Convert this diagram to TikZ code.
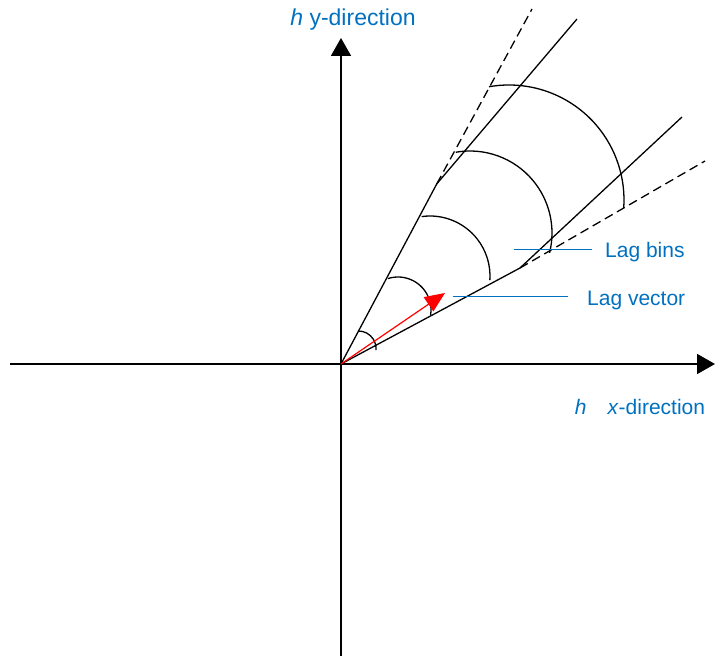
\documentclass[tikz,border=0pt]{standalone}
\usepackage{fontspec}
\setmainfont{Liberation Sans}
\usetikzlibrary{arrows.meta}
\definecolor{labelblue}{RGB}{0,112,192}
\begin{document}
\begin{tikzpicture}[x=10pt,y=10pt,
    axis/.style={line width=1.8pt,-{Triangle[length=18pt,width=20pt]}},
    binline/.style={line width=1.3pt},
    dashline/.style={line width=1.3pt,dash pattern=on 9pt off 5pt},
    leader/.style={labelblue,line width=1pt},
    axlabel/.style={labelblue,inner sep=0pt},
    laglabel/.style={labelblue,inner sep=0pt,anchor=west,font=\fontsize{21}{25}\selectfont}]
  \useasboundingbox (-34.1,-29.2) rectangle (37.4,36.4);
  % axes
  \coordinate (origin) at (0,0);
  \coordinate (xstart) at (-33.1,0);
  \coordinate (xend) at (37.4,0);
  \coordinate (ystart) at (0,-29.2);
  \coordinate (yend) at (0,32.6);
  \draw[axis] (xstart) -- (xend);
  \draw[axis] (ystart) -- (yend);
  \node[axlabel,font=\fontsize{23}{27}\selectfont] (ylab) at (1.2,34.4) {\textit{h} y-direction};
  \node[axlabel,font=\fontsize{21}{25}\selectfont] (xlab) at (29.9,-4.3) {\textit{h}\hspace{1em}\textit{x}-direction};
  % tolerance lines and bandwidth
  \coordinate (upbranch) at (62:20.4);
  \coordinate (updash) at (19.1,35.5);
  \coordinate (upband) at (23.6,34.5);
  \coordinate (lowbranch) at (17.9,9.6);
  \coordinate (lowdash) at (36.4,20.3);
  \coordinate (lowband) at (34.1,24.7);
  \draw[binline] (origin) -- (upbranch) -- (upband);
  \draw[binline] (origin) -- (lowbranch) -- (lowband);
  \draw[dashline] (upbranch) -- (updash);
  \draw[dashline] (lowbranch) -- (lowdash);
  % lag bins (centre x / centre y / radius / start / end)
  \foreach \cx/\cy/\r/\a/\b in {1.75/1.55/1.75/92/-5, 5.7/5.4/3.3/108/-9,
      8.9/8.8/6.0/98/-4, 12.9/13.1/8.2/100/-14, 16.8/16.4/11.5/100/-4}
    \draw[binline] (\cx,\cy) ++(\a:\r) arc[start angle=\a,end angle=\b,radius=\r];
  % lag vector
  \coordinate (lagtip) at (10.4,7.1);
  \draw[red,line width=1.2pt,-{Triangle[length=20pt,width=17pt]}] (origin) -- (lagtip);
  % labels
  \node[laglabel] (bins) at (26.4,11.2) {Lag bins};
  \node[laglabel] (vec) at (24.6,6.4) {Lag vector};
  \coordinate (binsptr) at (17.3,11.4);
  \coordinate (vecptr) at (11.2,6.7);
  \coordinate (binsend) at ([xshift=-13pt]bins.west);
  \coordinate (vecend) at ([xshift=-19pt]vec.west);
  \draw[leader] (binsptr) -- (binsptr -| binsend);
  \draw[leader] (vecptr) -- (vecptr -| vecend);
\end{tikzpicture}
\end{document}
